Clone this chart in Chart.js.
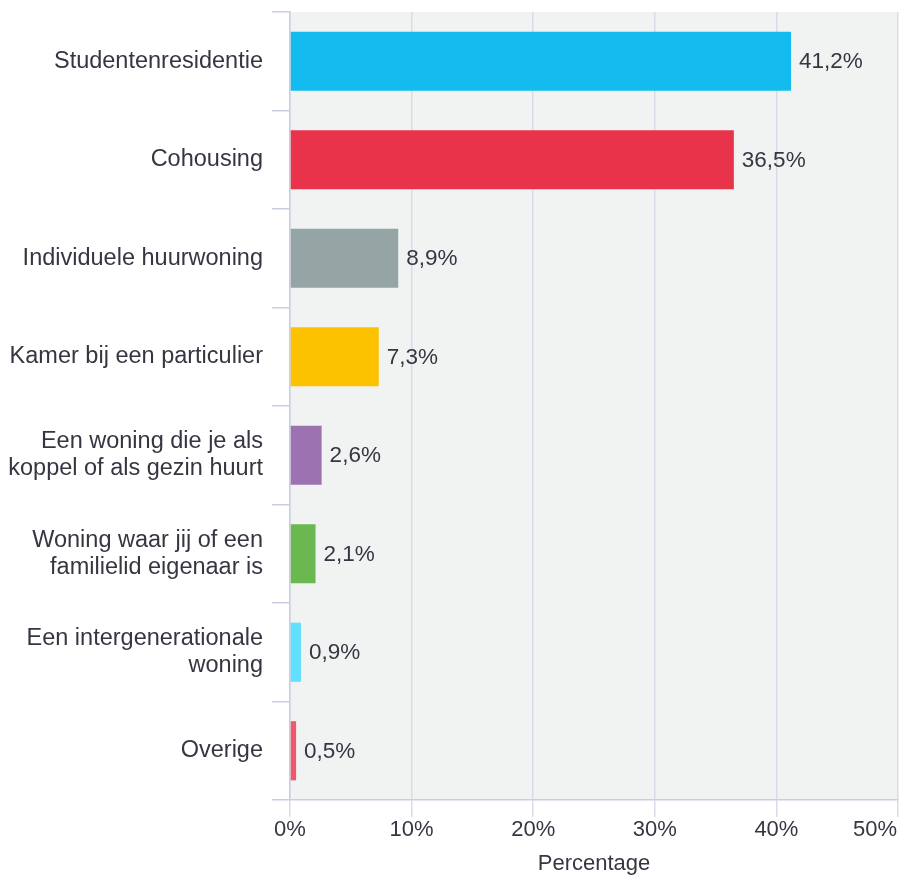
<!DOCTYPE html>
<html>
<head>
<meta charset="utf-8">
<script src="https://cdn.jsdelivr.net/npm/chart.js@4/dist/chart.umd.min.js"></script>
<style>
  html, body { margin: 0; padding: 0; background: #ffffff; }
  #wrap { width: 900px; height: 878px; }
</style>
</head>
<body>
<div id="wrap"><canvas id="chart" width="900" height="878"></canvas></div>
<script>
// Woonvorm van studenten (percentage van de respondenten)
const categories = [
  'Studentenresidentie',
  'Cohousing',
  'Individuele huurwoning',
  'Kamer bij een particulier',
  ['Een woning die je als', 'koppel of als gezin huurt'],
  ['Woning waar jij of een', 'familielid eigenaar is'],
  ['Een intergenerationale', 'woning'],
  'Overige'
];
const percentages = [41.2, 36.5, 8.9, 7.3, 2.6, 2.1, 0.9, 0.5];
const barColors = ['#14bbee', '#e8334a', '#95a5a6', '#fcc200', '#9c72b1', '#6ab84f', '#5fe0ff', '#f2566a'];
const xTickValues = [0, 10, 20, 30, 40, 50];
const axisTitle = 'Percentage';

const FONT = '"Liberation Sans", Arial, sans-serif';
const TEXT = '#363642';
const GRID = '#d8dbe8';

const fmt = v => v.toFixed(1).replace('.', ',') + '%';

// grey plot background behind the bars
const plotBackground = {
  id: 'plotBackground',
  beforeDraw(chart) {
    const { ctx, chartArea: a } = chart;
    ctx.save();
    ctx.fillStyle = '#f1f2f2';
    ctx.fillRect(a.left, a.top, a.right - a.left, a.bottom - a.top);
    ctx.restore();
  }
};

// value labels just past the end of each bar
const valueLabels = {
  id: 'valueLabels',
  afterDatasetsDraw(chart) {
    const { ctx } = chart;
    const meta = chart.getDatasetMeta(0);
    ctx.save();
    ctx.font = '22.5px ' + FONT;
    ctx.fillStyle = TEXT;
    ctx.textAlign = 'left';
    ctx.textBaseline = 'middle';
    meta.data.forEach((bar, i) => {
      ctx.fillText(fmt(percentages[i]), bar.x + 8, bar.y + 1);
    });
    ctx.restore();
  }
};

// x tick labels, kept inside the canvas at the right edge
const xTickLabels = {
  id: 'xTickLabels',
  afterDraw(chart) {
    const { ctx } = chart;
    const sx = chart.scales.x;
    ctx.save();
    ctx.font = '22px ' + FONT;
    ctx.fillStyle = TEXT;
    ctx.textAlign = 'left';
    ctx.textBaseline = 'middle';
    xTickValues.forEach(v => {
      const text = v + '%';
      const w = ctx.measureText(text).width;
      let left = sx.getPixelForValue(v) - w / 2;
      if (left + w > chart.width - 3) left = chart.width - 3 - w;
      ctx.fillText(text, left, 830);
    });
    ctx.restore();
  }
};

new Chart(document.getElementById('chart'), {
  type: 'bar',
  data: {
    labels: categories,
    datasets: [{
      data: percentages,
      backgroundColor: barColors,
      borderWidth: 0,
      barPercentage: 0.6,
      categoryPercentage: 1.0
    }]
  },
  options: {
    indexAxis: 'y',
    responsive: false,
    animation: false,
    layout: { padding: { top: 12, right: 2, left: 0, bottom: 0 } },
    plugins: {
      legend: { display: false },
      tooltip: { enabled: false }
    },
    scales: {
      x: {
        type: 'linear',
        min: 0,
        max: 50,
        ticks: { stepSize: 10, color: 'rgba(0,0,0,0)', font: { family: FONT, size: 22 } },
        grid: { color: GRID, lineWidth: 1.5, tickLength: 17, drawTicks: true },
        border: { color: '#c9cde2', width: 1.5 },
        title: { display: true, text: axisTitle, color: TEXT, font: { family: FONT, size: 22 }, padding: { top: 4, bottom: 1 } },
        afterFit(scale) {
          scale.height = 78;
          scale.paddingLeft = 0;
          scale.paddingRight = 0;
        }
      },
      y: {
        type: 'category',
        ticks: {
          color: TEXT,
          padding: 9,
          font: { family: FONT, size: 23.5, lineHeight: 1.16 }
        },
        grid: { drawOnChartArea: false, color: '#c9cde2', lineWidth: 1.5, tickLength: 18, offset: true },
        border: { color: '#c9cde2', width: 1.5 },
        afterFit(scale) {
          scale.width = 290;
          scale.paddingTop = 0;
          scale.paddingBottom = 0;
        }
      }
    }
  },
  plugins: [plotBackground, valueLabels, xTickLabels]
});
</script>
</body>
</html>
